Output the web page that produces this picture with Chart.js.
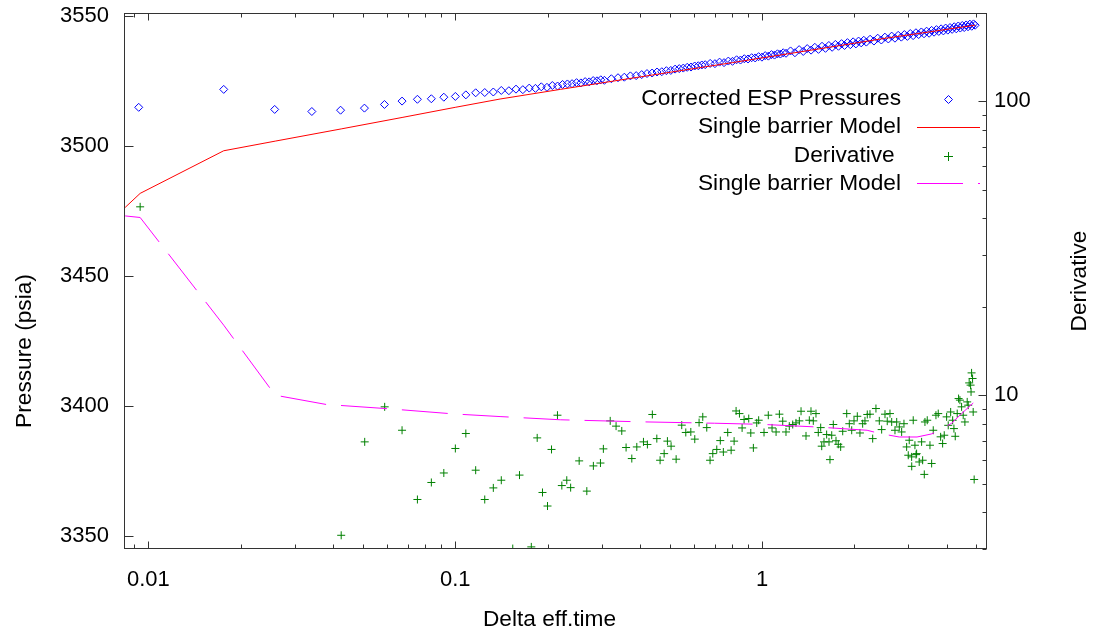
<!DOCTYPE html>
<html><head><meta charset="utf-8">
<script src="https://cdn.jsdelivr.net/npm/chart.js@4.4.0/dist/chart.umd.min.js"></script>
<style>html,body{margin:0;padding:0;background:#fff;}#wrap{width:1095px;height:634px;}</style>
</head><body><div id="wrap"><canvas id="c" width="1095" height="634"></canvas></div>
<script>
// ---- data ----
const pressTime = [0.0093,0.0176,0.0258,0.0341,0.0423,0.0506,0.0588,0.0671,0.0753,0.0836,0.0918,0.1001,0.1083,0.1166,0.1248,0.1331,0.1413,0.1496,0.1578,0.1661,0.1743,0.1826,0.1908,0.1991,0.2073,0.2156,0.2238,0.2321,0.2403,0.2486,0.2568,0.2651,0.2733,0.2816,0.2898,0.2981,0.3063,
0.3228,0.3393,0.3558,0.3723,0.3888,0.4053,0.4218,0.4383,0.4548,0.4713,0.4878,0.5043,0.5208,0.5373,0.5538,0.5703,0.5868,0.6033,0.6198,0.6363,0.6528,
0.6775,0.7023,0.727,0.7518,0.7765,0.8013,0.826,0.8508,0.8755,0.9003,0.925,0.9498,0.9745,0.9993,1.024,1.0488,1.0735,1.0983,1.123,1.1478,1.1725,1.1973,
1.2385,1.2798,1.321,1.3623,1.4035,1.4448,1.486,1.5273,1.5685,1.6098,1.651,1.6923,1.7335,1.7748,1.816,1.8573,1.8985,1.9398,1.981,2.0223,2.0635,2.1048,2.146,2.1873,
2.25,2.316,2.382,2.448,2.514,2.58,2.646,2.712,2.778,2.844,2.91,2.976,3.042,3.108,3.174,3.24,3.306,3.372,3.438,3.504,3.57,3.636,3.702,3.768,3.834,3.9,3.966,4.032,4.098,4.164,4.23,4.296,4.362,4.428,4.494,4.56,4.626,4.692,4.758,4.824,4.89,4.95];
const pressVal = [3514.9,3521.8,3514.1,3513.3,3513.8,3514.6,3516.0,3517.3,3518.0,3518.2,3518.8,3519.1,3519.7,3520.5,3520.6,3520.8,3521.4,3521.3,3521.9,3521.7,3522.3,3522.2,3522.8,3522.6,3523.3,3523.1,3523.7,3523.9,3524.0,3524.4,3524.3,3524.8,3524.7,3525.2,3525.1,3525.5,3525.3,
3525.9,3526.3,3526.5,3527.0,3527.1,3527.5,3527.9,3528.1,3528.5,3528.6,3529.0,3529.1,3529.6,3529.8,3530.0,3530.3,3530.4,3530.8,3530.9,3531.2,3531.3,
3531.8,3531.7,3532.3,3532.1,3532.7,3532.6,3533.2,3533.1,3533.6,3533.5,3534.0,3533.9,3534.4,3534.2,3534.8,3534.6,3535.2,3535.0,3535.5,3535.4,3535.9,3535.7,
3536.6,3535.9,3537.1,3536.4,3537.5,3536.9,3538.0,3537.2,3538.4,3537.6,3538.7,3538.0,3539.1,3538.4,3539.4,3538.7,3539.8,3539.0,3540.1,3539.3,3540.4,3539.7,3540.7,3540.0,
3541.1,3540.4,3541.5,3540.8,3541.9,3541.2,3542.3,3541.5,3542.6,3541.9,3542.9,3542.2,3543.3,3542.5,3543.6,3542.9,3543.9,3543.2,3544.2,3543.4,3544.5,3543.8,3544.8,3544.1,3545.1,3544.3,3545.4,3544.6,3545.6,3544.9,3545.9,3545.1,3546.2,3545.4,3546.4,3545.6,3546.6,3545.9,3546.9,3546.1,3547.0,3546.5];

const modelTime  = [0.0084,0.0094,0.0176,0.0259,0.0425,0.0671,0.1,0.14,0.22,0.4,0.8,1.5,2.5,3.5,4.95];
const modelPress = [3476.4,3481.8,3498.2,3501.9,3506.6,3511.0,3514.9,3518.1,3521.8,3526.6,3532.1,3537.2,3541.4,3543.9,3546.5];

const derivTime = [0.0094,0.0425,0.0507,0.0589,0.0671,0.0753,0.0836,0.0918,0.1001,0.1083,0.1166,0.1248,0.1331,0.1413,0.154,0.162,0.177,0.185,0.1925,0.1999,0.206,
0.2154,0.2226,0.231,0.2378,0.2535,0.2685,0.282,0.2974,0.304,0.32,0.3344,0.349,0.3605,0.3763,0.3907,0.4107,0.423,0.439,0.454,0.4653,0.4797,0.4916,0.5053,0.5248,0.5474,0.5643,0.586,0.6036,0.6235,0.641,0.6604,0.677,0.691,0.712,0.731,0.748,0.773,0.793,0.811,0.823,0.844,0.861,0.874,0.905,0.919,0.937,0.961,0.975,
1.015,1.048,1.078,1.111,1.139,1.168,1.197,1.227,1.259,1.29,1.323,1.34,1.391,1.426,1.444,1.469,1.499,1.525,1.553,1.565,1.592,1.624,1.653,1.665,1.687,1.707,1.742,1.772,1.804,1.832,1.888,1.925,1.96,1.994,2.044,2.085,2.128,2.165,2.203,2.248,2.294,2.351,2.411,2.454,2.516,2.559,
2.612,2.646,2.712,2.747,2.801,2.851,2.901,2.96,2.996,3.018,3.073,3.075,3.11,3.15,3.176,3.19,3.253,3.312,3.338,3.379,3.396,3.455,3.526,3.571,3.614,3.688,3.752,3.82,3.878,3.925,3.996,4.044,4.119,4.181,4.221,4.263,4.326,4.371,4.415,4.471,4.525,4.583,4.663,4.699,4.733,4.783,4.80,4.819,4.855,4.877,4.913];
const derivVal = [43.7,3.34,6.94,9.13,7.6,4.42,5.05,5.44,6.59,7.41,5.56,4.42,4.84,5.14,3.01,5.35,3.05,7.16,4.67,4.20,6.54,
8.55,4.93,5.14,4.85,5.98,4.72,5.75,5.88,6.57,8.18,7.85,7.56,6.64,6.09,6.67,6.94,6.80,8.60,7.12,6.01,6.33,6.98,6.71,6.06,7.91,7.47,7.50,7.09,8.07,8.44,7.76,6.01,6.33,6.54,7.01,6.41,7.47,6.50,6.98,8.84,8.66,7.74,8.27,8.33,7.44,6.62,8.05,8.22,
7.47,8.55,7.74,7.50,8.62,8.16,7.50,7.85,7.95,8.05,8.18,8.82,7.27,8.22,8.82,8.18,8.66,7.47,7.76,6.71,6.94,7.35,6.94,6.04,7.31,7.95,7.0,6.81,6.67,7.54,8.66,8.0,7.60,8.18,8.48,7.44,8.0,8.18,8.60,8.62,7.12,9.01,8.18,7.64,8.62,8.16,
8.66,8.11,7.60,8.11,7.80,7.50,8.0,6.67,6.25,7.03,6.17,5.73,8.22,6.76,6.28,6.33,5.93,6.94,6.01,5.38,8.11,8.22,6.76,5.86,7.60,8.55,8.66,7.22,6.85,7.31,8.44,7.90,8.77,8.22,7.70,7.25,8.66,9.74,9.62,9.13,8.55,8.11,9.49,9.25,11.01,10.82,10.26,11.91,11.4,8.77,5.17];

const derivModelTime = [0.0084,0.0094,0.0176,0.0259,0.038,0.06,0.1,0.14,0.22,0.4,0.7,1.0,1.5,2.2,2.42,2.8,3.2,3.56,3.8,4.15,4.47,4.88];
const derivModelVal  = [40.7,40.2,17.3,10.0,9.30,9.0,8.63,8.46,8.25,8.12,8.03,7.96,7.80,7.60,7.41,7.21,7.21,7.38,7.60,8.03,8.66,9.41];

const xTickVals  = [0.01, 0.1, 1];
const xMinorVals = [0.009,0.02,0.03,0.04,0.05,0.06,0.07,0.08,0.09,0.2,0.3,0.4,0.5,0.6,0.7,0.8,0.9,2,3,4,5];
const yTickVals  = [3350, 3400, 3450, 3500, 3550];
const y2TickVals = [10, 100];
const y2MinorVals = [3,4,5,6,7,8,9,20,30,40,50,60,70,80,90];
const seriesNames = ['Corrected ESP Pressures','Single barrier Model','Derivative ','Single barrier Model'];
const axisTitles = {x:'Delta eff.time', y:'Pressure (psia)', y2:'Derivative'};

// ---- styling ----
const FAMILY = "'Liberation Sans', Arial, sans-serif";
const FONT = {family:FAMILY, size:22};
const BIG = `22.7px ${FAMILY}`;
const BLUE='#0000ff', RED='#ff0000', GREEN='#008000', MAG='#ff00ff';

const zip = (xs, ys) => xs.map((x,i)=>({x, y: ys[i]}));
const noPad = s => { s.paddingTop=0; s.paddingBottom=0; s.paddingLeft=0; s.paddingRight=0; };

const overlay = {
  id:'overlay',
  afterDraw(chart){
    const ctx=chart.ctx, a=chart.chartArea, sx=chart.scales.x, sy=chart.scales.y, sy2=chart.scales.y2;
    const L=Math.round(a.left)-0.5, R=Math.round(a.right)-0.5, T=Math.round(a.top)-0.5, B=Math.round(a.bottom)-0.5;
    ctx.save();
    ctx.strokeStyle='#333'; ctx.lineWidth=1;
    ctx.strokeRect(L, T, R-L, B-T);
    ctx.beginPath();
    const xt=(v,len)=>{const p=Math.round(sx.getPixelForValue(v))+0.5; ctx.moveTo(p,B); ctx.lineTo(p,B-len); ctx.moveTo(p,T); ctx.lineTo(p,T+len);};
    xTickVals.forEach(v=>xt(v,7)); xMinorVals.forEach(v=>xt(v,4));
    yTickVals.forEach(v=>{const p=Math.round(sy.getPixelForValue(v))+0.5; ctx.moveTo(L,p); ctx.lineTo(L+9,p);});
    y2TickVals.forEach(v=>{const p=Math.round(sy2.getPixelForValue(v))+0.5; ctx.moveTo(R,p); ctx.lineTo(R-8,p);});
    y2MinorVals.forEach(v=>{const p=Math.round(sy2.getPixelForValue(v))+0.5; ctx.moveTo(R,p); ctx.lineTo(R-4,p);});
    ctx.stroke();
    // axis titles
    ctx.fillStyle='#000'; ctx.font=BIG; ctx.textAlign='center'; ctx.textBaseline='middle';
    ctx.fillText(axisTitles.x, 549.5, 620);
    ctx.save(); ctx.translate(25, 351); ctx.rotate(-Math.PI/2); ctx.fillText(axisTitles.y,0,0); ctx.restore();
    ctx.save(); ctx.translate(1080, 281); ctx.rotate(-Math.PI/2); ctx.fillText(axisTitles.y2,0,0); ctx.restore();
    // legend
    const rows=[99,127,155.5,183.3];
    ctx.textAlign='right';
    seriesNames.forEach((n,i)=>ctx.fillText(n, 901, rows[i]));
    const r0=Math.round(rows[0])+0.5;
    ctx.strokeStyle=BLUE; ctx.beginPath(); ctx.moveTo(948.5,r0-4); ctx.lineTo(952.5,r0); ctx.lineTo(948.5,r0+4); ctx.lineTo(944.5,r0); ctx.closePath(); ctx.stroke();
    ctx.strokeStyle=RED; ctx.beginPath(); ctx.moveTo(917,Math.round(rows[1])+0.5); ctx.lineTo(980,Math.round(rows[1])+0.5); ctx.stroke();
    ctx.strokeStyle=GREEN; ctx.beginPath(); ctx.moveTo(944,Math.round(rows[2])+0.5); ctx.lineTo(953,Math.round(rows[2])+0.5); ctx.moveTo(948.5,Math.round(rows[2])-4); ctx.lineTo(948.5,Math.round(rows[2])+5); ctx.stroke();
    ctx.strokeStyle=MAG; ctx.setLineDash([46,15]); ctx.beginPath(); ctx.moveTo(917,Math.round(rows[3])+0.5); ctx.lineTo(980,Math.round(rows[3])+0.5); ctx.stroke();
    ctx.restore();
  }
};

new Chart(document.getElementById('c'), {
  type:'scatter',
  data:{datasets:[
    {label:seriesNames[0], data:zip(pressTime,pressVal), yAxisID:'y', pointStyle:'rectRot', pointRadius:4, borderColor:BLUE, backgroundColor:'rgba(0,0,0,0)', borderWidth:1, showLine:false, order:4},
    {label:seriesNames[1], data:zip(modelTime,modelPress), yAxisID:'y', showLine:true, borderColor:RED, borderWidth:1, pointRadius:0, tension:0, order:3},
    {label:seriesNames[2], data:zip(derivTime,derivVal), yAxisID:'y2', pointStyle:'cross', pointRadius:4, borderColor:GREEN, backgroundColor:GREEN, borderWidth:1, showLine:false, order:2},
    {label:seriesNames[3], data:zip(derivModelTime,derivModelVal), yAxisID:'y2', showLine:true, borderColor:MAG, borderWidth:1, borderDash:[46,15], pointRadius:0, tension:0, order:1}
  ]},
  options:{
    responsive:false, animation:false, devicePixelRatio:1,
    layout:{padding:{top:13.5,left:0,right:0,bottom:0}},
    plugins:{legend:{display:false}, tooltip:{enabled:false}},
    scales:{
      x:{type:'logarithmic', position:'bottom', min:0.00839, max:5.41,
         grid:{display:false, drawTicks:false}, border:{display:false},
         afterBuildTicks:s=>{s.ticks=xTickVals.map(v=>({value:v}));},
         afterFit:s=>{s.height=85; noPad(s);},
         ticks:{autoSkip:false, maxRotation:0, padding:18, color:'#000', font:FONT, callback:v=>String(v)}},
      y:{type:'linear', position:'left', min:3345, max:3551,
         grid:{display:false, drawTicks:false}, border:{display:false},
         afterBuildTicks:s=>{s.ticks=yTickVals.map(v=>({value:v}));},
         afterFit:s=>{s.width=125; noPad(s);},
         ticks:{padding:16, color:'#000', font:FONT, callback:v=>String(v)}},
      y2:{type:'logarithmic', position:'right', min:3, max:198.5,
         grid:{display:false, drawTicks:false}, border:{display:false},
         afterBuildTicks:s=>{s.ticks=y2TickVals.map(v=>({value:v}));},
         afterFit:s=>{s.width=108; noPad(s);},
         ticks:{padding:7, color:'#000', font:FONT, callback:v=>String(v)}}
    }
  },
  plugins:[overlay]
});
</script></body></html>
